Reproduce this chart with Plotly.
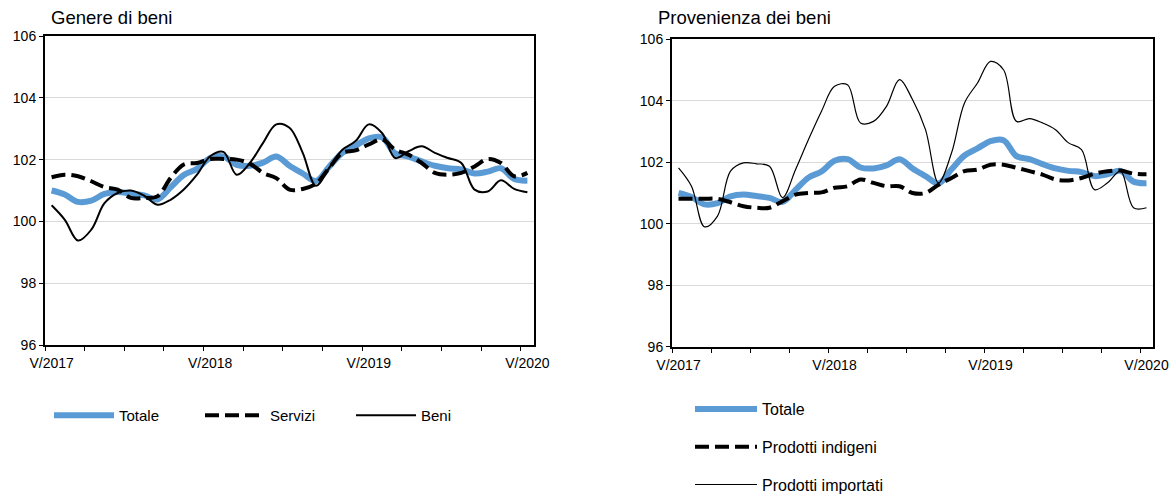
import plotly.graph_objects as go

# Monthly data, May 2017 - May 2020 (37 months)
months = list(range(37))
tick_pos = [0, 12, 24, 36]
tick_labels = ["V/2017", "V/2018", "V/2019", "V/2020"]
minor_pos = [-0.5 + 3 * k for k in range(13)]

totale = [101.0, 100.87, 100.63, 100.67, 100.89, 100.95, 100.9, 100.84, 100.71, 101.1,
          101.5, 101.7, 102.05, 102.1, 101.83, 101.8, 101.9, 102.1, 101.8, 101.55,
          101.31, 101.77, 102.22, 102.45, 102.69, 102.72, 102.2, 102.1, 101.94, 101.8,
          101.72, 101.68, 101.55, 101.61, 101.72, 101.37, 101.32]

servizi = [101.43, 101.51, 101.46, 101.3, 101.11, 101.03, 100.76, 100.76, 100.81, 101.4,
           101.84, 101.89, 102.02, 102.02, 102.0, 101.87, 101.57, 101.4, 101.03, 101.05,
           101.22, 101.73, 102.22, 102.3, 102.49, 102.65, 102.32, 102.16, 101.89, 101.57,
           101.51, 101.57, 101.78, 102.02, 101.89, 101.46, 101.57]

beni = [100.52, 100.05, 99.38, 99.73, 100.59, 100.92, 101.0, 100.83, 100.54, 100.7,
        101.03, 101.51, 102.11, 102.25, 101.51, 101.89, 102.54, 103.14, 103.03, 102.22,
        101.15, 101.73, 102.32, 102.6, 103.14, 102.86, 102.05, 102.27, 102.43, 102.22,
        102.05, 101.89, 101.03, 100.97, 101.33, 101.05, 100.94]

indigeni = [100.81, 100.81, 100.81, 100.81, 100.7, 100.57, 100.52, 100.52, 100.73, 100.95,
            101.0, 101.02, 101.17, 101.22, 101.44, 101.33, 101.22, 101.22, 101.0, 101.0,
            101.27, 101.49, 101.71, 101.76, 101.92, 101.92, 101.82, 101.71, 101.6, 101.44,
            101.41, 101.49, 101.63, 101.71, 101.73, 101.63, 101.61]

importati = [101.82, 101.22, 99.9, 100.25, 101.71, 101.98, 101.95, 101.87, 100.85, 101.76,
             102.74, 103.66, 104.47, 104.52, 103.28, 103.33, 103.82, 104.69, 104.04, 103.06,
             101.33, 102.3, 103.93, 104.58, 105.28, 105.01, 103.33, 103.42, 103.28, 103.06,
             102.63, 102.41, 101.11, 101.33, 101.71, 100.52, 100.52]

BLUE = "#5B9BD5"
FONT = "Arial, Liberation Sans, sans-serif"

fig = go.Figure()

# Left panel
fig.add_trace(go.Scatter(x=months, y=totale, name="Totale", mode="lines",
                         line=dict(color=BLUE, width=6, shape="spline", smoothing=1),
                         xaxis="x", yaxis="y", legend="legend"))
fig.add_trace(go.Scatter(x=months, y=servizi, name="Servizi", mode="lines",
                         line=dict(color="black", width=4, dash="14px,6px", shape="spline", smoothing=1),
                         xaxis="x", yaxis="y", legend="legend"))
fig.add_trace(go.Scatter(x=months, y=beni, name="Beni", mode="lines",
                         line=dict(color="black", width=2, shape="spline", smoothing=1),
                         xaxis="x", yaxis="y", legend="legend"))

# Right panel
fig.add_trace(go.Scatter(x=months, y=totale, name="Totale", mode="lines",
                         line=dict(color=BLUE, width=6, shape="spline", smoothing=1),
                         xaxis="x2", yaxis="y2", legend="legend2", legendgroup="a"))
fig.add_trace(go.Scatter(x=months, y=indigeni, name="Prodotti indigeni", mode="lines",
                         line=dict(color="black", width=4, dash="14px,6px", shape="spline", smoothing=1),
                         xaxis="x2", yaxis="y2", legend="legend2", legendgroup="b"))
fig.add_trace(go.Scatter(x=months, y=importati, name="Prodotti importati", mode="lines",
                         line=dict(color="black", width=1.2, shape="spline", smoothing=1),
                         xaxis="x2", yaxis="y2", legend="legend2", legendgroup="c"))

W, H = 1172, 495

def px_x(p):
    return p / W

def px_y(p):
    return 1 - p / H

xaxis_common = dict(
    range=[-0.5, 36.5], tickmode="array", tickvals=tick_pos, ticktext=tick_labels,
    ticks="outside", ticklen=4, tickcolor="rgba(0,0,0,0)",
    showline=True, linecolor="black", linewidth=2, mirror=True,
    showgrid=False, zeroline=False, fixedrange=True, automargin=False,
    tickfont=dict(size=14, color="black", family=FONT),
    minor=dict(tickmode="array", tickvals=minor_pos, ticks="outside", ticklen=4,
               tickcolor="black", tickwidth=1, showgrid=False),
)
yaxis_common = dict(
    range=[96, 106], tickmode="array", tickvals=[96, 98, 100, 102, 104, 106],
    ticks="outside", ticklen=4, tickcolor="black", tickwidth=1,
    showline=True, linecolor="black", linewidth=2, mirror=True, automargin=False,
    showgrid=True, gridcolor="#d9d9d9", gridwidth=1, zeroline=False, fixedrange=True,
    tickfont=dict(size=14, color="black", family=FONT),
)

fig.update_layout(
    width=W, height=H,
    margin=dict(l=0, r=0, t=0, b=0, autoexpand=False),
    paper_bgcolor="white", plot_bgcolor="white",
    font=dict(family=FONT, color="black"),
    xaxis=dict(domain=[px_x(45), px_x(534)], anchor="y", **xaxis_common),
    yaxis=dict(domain=[px_y(345), px_y(36)], anchor="x", **yaxis_common),
    xaxis2=dict(domain=[px_x(672), px_x(1153)], anchor="y2", **xaxis_common),
    yaxis2=dict(domain=[px_y(346.7), px_y(39.3)], anchor="x2", **yaxis_common),
    legend=dict(orientation="h", x=px_x(49), xanchor="left", y=px_y(399), yanchor="top",
                itemwidth=60, entrywidth=76, entrywidthmode="pixels",
                font=dict(size=15, family=FONT, color="black"), bgcolor="rgba(0,0,0,0)"),
    legend2=dict(orientation="v", x=px_x(690), xanchor="left", y=px_y(392), yanchor="top",
                 itemwidth=62, tracegroupgap=14, traceorder="grouped",
                 font=dict(size=16, family=FONT, color="black"), bgcolor="rgba(0,0,0,0)"),
    annotations=[
        dict(text="Genere di beni", xref="paper", yref="paper", x=px_x(49), y=px_y(17),
             xanchor="left", yanchor="middle", showarrow=False,
             font=dict(size=18.5, family=FONT, color="black")),
        dict(text="Provenienza dei beni", xref="paper", yref="paper", x=px_x(656), y=px_y(17),
             xanchor="left", yanchor="middle", showarrow=False,
             font=dict(size=18.5, family=FONT, color="black")),
    ],
)

fig.write_html("out.html", config={"displayModeBar": False},
               post_script="document.body.style.margin='0';")
